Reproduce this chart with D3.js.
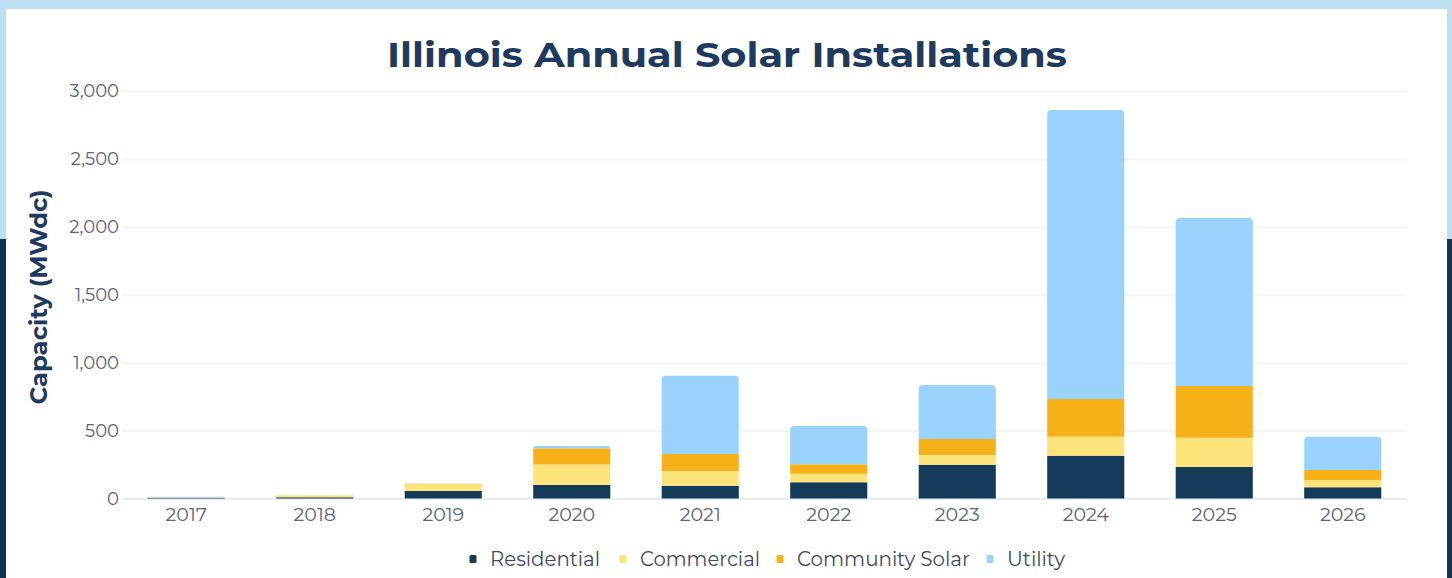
<!DOCTYPE html>
<html>
<head>
<meta charset="utf-8">
<script src="https://cdn.jsdelivr.net/npm/d3@7"></script>
<style>
  body { margin: 0; padding: 0; background: #ffffff; }
  svg { display: block; }
</style>
</head>
<body>
<div id="chart"></div>
<script>
var width = 1452
var height = 578

// data
const years = ["2017", "2018", "2019", "2020", "2021", "2022", "2023", "2024", "2025", "2026"];
const residential = [5, 10, 55, 100, 94, 119, 249, 315, 232, 82];
const commercial = [5, 10, 50, 150, 106, 64, 71, 140, 216, 52];
const communitySolar = [0, 2, 4, 120, 128, 69, 118, 278, 380, 76];
const utility = [2, 0, 0, 17, 576, 282, 398, 2128, 1237, 245];
const seriesNames = ["Residential", "Commercial", "Community Solar", "Utility"];
const seriesColors = ["#143a5a", "#fde47a", "#f7b219", "#99d3fd"];
const yTicks = [0, 500, 1000, 1500, 2000, 2500, 3000];

const title = "Illinois Annual Solar Installations";
const yAxisLabel = "Capacity (MWdc)";
const fontFam = "Montserrat, 'Open Sans', sans-serif";

var svg = d3.select("#chart").append("svg")
    .attr("width", width)
    .attr("height", height)

// page background frame
svg.append("rect").attr("x", 0).attr("y", 0).attr("width", width).attr("height", height).attr("fill", "#bde0f1");
svg.append("rect").attr("x", 0).attr("y", 239).attr("width", width).attr("height", height - 239).attr("fill", "#10344f");
svg.append("rect").attr("x", 6).attr("y", 9).attr("width", 1441).attr("height", height - 9).attr("fill", "#ffffff");

const margin = {top: 91, right: 45, bottom: 80, left: 122};
const innerWidth = width - margin.left - margin.right;
const innerHeight = 498.5 - margin.top;

const table = years.map((y, i) => ({
    year: y,
    Residential: residential[i],
    Commercial: commercial[i],
    "Community Solar": communitySolar[i],
    Utility: utility[i]
}));

const stack = d3.stack().keys(seriesNames);
const stacked = stack(table);

const xScale = d3.scaleBand()
    .domain(years)
    .range([0, innerWidth])
    .paddingInner(0.4)
    .paddingOuter(0.2);

const yScale = d3.scaleLinear()
    .domain([0, 3000])
    .range([innerHeight, 0]);

const color = d3.scaleOrdinal().domain(seriesNames).range(seriesColors);

const g = svg.append("g")
    .attr("transform", `translate(${margin.left}, ${margin.top})`)

// gridlines
const yAxis = d3.axisLeft(yScale)
    .tickValues(yTicks)
    .tickSize(-innerWidth)
    .tickPadding(3)
    .tickFormat(d3.format(",d"));

const yAxisG = g.append("g").call(yAxis);
yAxisG.select(".domain").remove();
yAxisG.selectAll(".tick line")
    .attr("stroke", (d) => d === 0 ? "#e6edf5" : "#f3f4f6")
    .attr("stroke-width", 2);
yAxisG.selectAll(".tick text")
    .attr("fill", "#5b6478")
    .style("font-family", fontFam)
    .style("font-size", "18px");

const xAxis = d3.axisBottom(xScale).tickSize(0).tickPadding(9);
const xAxisG = g.append("g")
    .attr("transform", `translate(0, ${innerHeight})`)
    .call(xAxis);
xAxisG.select(".domain").remove();
xAxisG.selectAll(".tick text")
    .attr("fill", "#5b6478")
    .style("font-family", fontFam)
    .style("font-size", "19px");

// bars
const layers = g.selectAll("g.layer").data(stacked)
    .enter().append("g")
    .attr("class", "layer")
    .attr("fill", d => color(d.key));

layers.selectAll("path").data(d => d)
    .enter().append("path")
    .attr("d", d => {
        const x0 = xScale(d.data.year);
        const w = xScale.bandwidth();
        const yTop = yScale(d[1]);
        const yBot = yScale(d[0]);
        const h = yBot - yTop;
        if (h <= 0) return "";
        // top segment of each bar gets rounded corners
        const total = seriesNames.reduce((s, k) => s + d.data[k], 0);
        const r = (d[1] === total) ? Math.min(4, h) : 0;
        return `M${x0},${yBot} L${x0},${yTop + r} Q${x0},${yTop} ${x0 + r},${yTop} L${x0 + w - r},${yTop} Q${x0 + w},${yTop} ${x0 + w},${yTop + r} L${x0 + w},${yBot} Z`;
    });

// title
svg.append("text")
    .attr("x", 727)
    .attr("y", 67)
    .attr("text-anchor", "middle")
    .attr("fill", "#1e3a5f")
    .style("font-family", fontFam)
    .style("font-weight", "700")
    .style("font-size", "35px")
    .attr("textLength", 680)
    .attr("lengthAdjust", "spacingAndGlyphs")
    .text(title);

// y axis label
svg.append("text")
    .attr("transform", `translate(47, 297) rotate(-90)`)
    .attr("text-anchor", "middle")
    .attr("fill", "#1e3a5f")
    .style("font-family", fontFam)
    .style("font-weight", "700")
    .style("font-size", "24px")
    .attr("textLength", 215)
    .attr("lengthAdjust", "spacingAndGlyphs")
    .text(yAxisLabel);

// legend
const legendX = [473, 623, 780, 990];
const legendW = [110, 120, 173, 58];
const legend = svg.append("g").selectAll("g").data(seriesNames)
    .enter().append("g")
    .attr("transform", (d, i) => `translate(${legendX[i]}, 559)`);
legend.append("rect")
    .attr("x", -3.5).attr("y", -4)
    .attr("width", 7).attr("height", 8)
    .attr("rx", 1.5)
    .attr("fill", d => color(d));
legend.append("text")
    .attr("x", 17)
    .attr("y", 0)
    .attr("dy", "0.35em")
    .attr("fill", "#3e4a63")
    .style("font-family", fontFam)
    .style("font-size", "20px")
    .attr("textLength", (d, i) => legendW[i])
    .attr("lengthAdjust", "spacingAndGlyphs")
    .text(d => d);
</script>
</body>
</html>
